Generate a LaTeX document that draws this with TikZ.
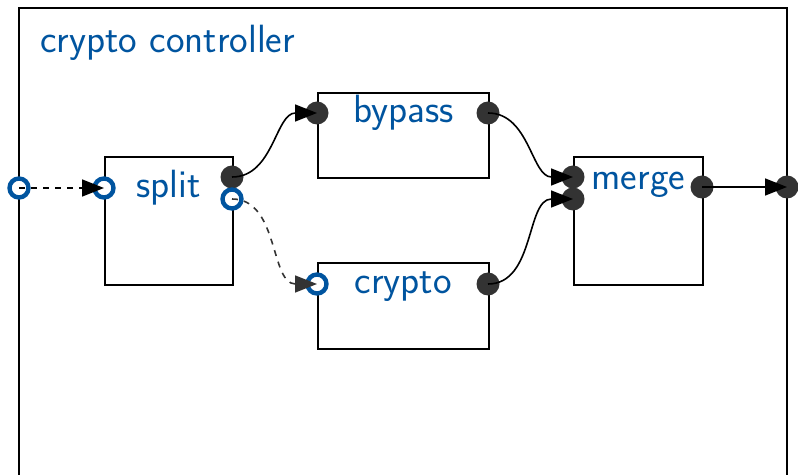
\documentclass[tikz,border=0pt]{standalone}
\usepackage{tikz}
\usetikzlibrary{arrows.meta}
\definecolor{portblue}{RGB}{0,84,159}
\definecolor{portgray}{RGB}{51,51,51}

\begin{document}
\begin{tikzpicture}[x=0.5pt,y=-0.5pt,
  box/.style={draw,line width=0.8pt,inner sep=0pt,anchor=north west},
  lbl/.style={text=portblue,font=\fontsize{19.7}{23}\selectfont\sffamily,anchor=mid,inner sep=0pt,yshift=-2.5pt},
  dport/.style={circle,fill=portgray,minimum size=11.5pt,inner sep=0pt},
  iport/.style={circle,draw=portblue,line width=2.2pt,fill=white,minimum size=9.5pt,inner sep=0pt},
  link/.style={line width=0.8pt,-{Triangle[length=11pt,width=8.5pt]}}]
  \useasboundingbox (0,0) rectangle (798,475);
  \draw[line width=0.8pt] (19,475) |- (787,8) -- (787,475);
  \node[lbl,anchor=base west,yshift=0pt] (title) at (40,48) {crypto controller};

  \node[box,minimum width=64pt,minimum height=64pt] (split) at (104,156) {};
  \node[box,minimum width=85.5pt,minimum height=42.5pt] (bypass) at (317,92) {};
  \node[box,minimum width=85.5pt,minimum height=43pt] (crypto) at (317,262) {};
  \node[box,minimum width=64.5pt,minimum height=64pt] (merge) at (573,156) {};

  \node[iport] (oin) at (19,188) {};
  \node[dport] (oout) at (787,187) {};
  \node[iport] (sin) at (104,188) {};
  \node[dport] (sout) at (232,177) {};
  \node[iport] (senc) at (232,199) {};
  \node[dport] (bin) at (317,113) {};
  \node[dport] (bout) at (488,113) {};
  \node[iport] (cin) at (317,284) {};
  \node[dport] (cout) at (488,284) {};
  \node[dport] (min1) at (573,177) {};
  \node[dport] (min2) at (573,199) {};
  \node[dport] (mout) at (702,187) {};

  \node[lbl] at (split.north |- sin) {split};
  \node[lbl] at (bypass.north |- bin) {bypass};
  \node[lbl] at (crypto.north |- cin) {crypto};
  \node[lbl,yshift=-1.5pt] at (merge.north |- min1) {merge};

  \draw[link,dashed] (oin.center) -- (sin.center);
  \draw[link] (sout.center) to[out=0,in=180] (bin.center);
  \draw[link,dashed,portgray] (senc.center) to[out=0,in=180] (cin.center);
  \draw[link] (bout.center) to[out=0,in=180] (min1.center);
  \draw[link] (cout.center) to[out=0,in=180] (min2.center);
  \draw[link] (mout.center) -- (oout.center);
\end{tikzpicture}
\end{document}
